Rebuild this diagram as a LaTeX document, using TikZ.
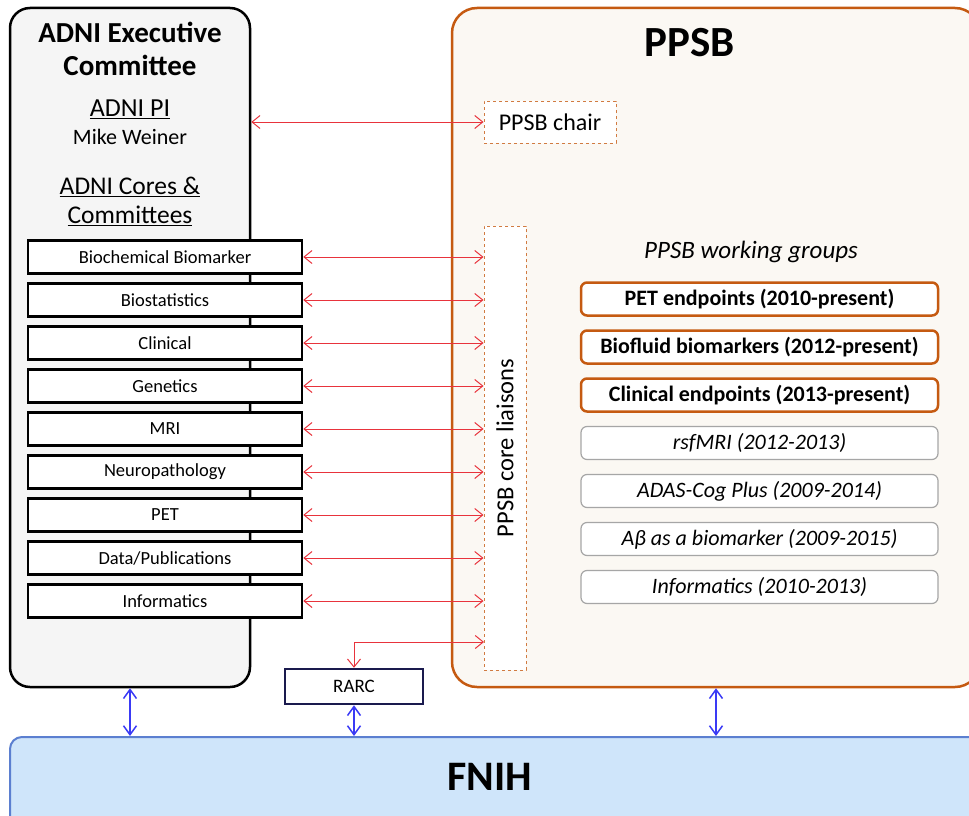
\documentclass[tikz,border=0pt]{standalone}
\usepackage{fontspec}
\setmainfont{Carlito}
\usetikzlibrary{arrows.meta,positioning}
\definecolor{ppsborange}{HTML}{C55A11}
\definecolor{ppsbfill}{HTML}{FBF8F3}
\definecolor{adnifill}{HTML}{F5F5F5}
\definecolor{fnihfill}{HTML}{CFE5FA}
\definecolor{fnihline}{HTML}{5B7FD0}
\definecolor{linkred}{HTML}{E8333C}
\definecolor{linkblue}{HTML}{3A3AF5}
\definecolor{rarcline}{HTML}{1A1A4E}
\definecolor{pastline}{HTML}{A6A6A6}

\begin{document}
\begin{tikzpicture}[x=1pt,y=-1pt,
  adnibox/.style={draw=black,line width=2.5pt,rounded corners=20pt,fill=adnifill,
    minimum width=240pt,minimum height=679pt,inner sep=0pt},
  ppsbbox/.style={draw=ppsborange,line width=2.5pt,rounded corners=25pt,fill=ppsbfill,
    minimum width=528pt,minimum height=679pt,inner sep=0pt},
  fnihbox/.style={draw=fnihline,line width=2pt,rounded corners=12pt,fill=fnihfill,
    minimum width=980pt,minimum height=106pt,inner sep=0pt},
  core/.style={draw=black,line width=2.5pt,fill=white,minimum width=274pt,
    minimum height=33pt,inner sep=0pt,font=\fontsize{18.5}{20}\selectfont},
  dashbox/.style={draw=ppsborange!80,dashed,line width=1pt,fill=white,inner sep=0pt},
  wgactive/.style={draw=ppsborange,line width=2.5pt,rounded corners=6pt,fill=white,
    minimum width=357pt,minimum height=33pt,inner sep=0pt,
    font=\bfseries\fontsize{22}{24}\selectfont},
  wgpast/.style={draw=pastline,line width=1.2pt,rounded corners=6pt,fill=white,
    minimum width=357pt,minimum height=33pt,inner sep=0pt,
    font=\itshape\fontsize{22}{24}\selectfont},
  redlink/.style={draw=linkred,line width=1pt,
    {Straight Barb[length=8pt,width=13pt]}-{Straight Barb[length=8pt,width=13pt]}},
  bluelink/.style={draw=linkblue,line width=1.5pt,
    {Straight Barb[length=9pt,width=13pt]}-{Straight Barb[length=9pt,width=13pt]}}]
\useasboundingbox (0,0) rectangle (969,816);
\clip (0,0) rectangle (969,816);

% outer boxes
\node[adnibox] (adni) at (130,347.5) {};
\node[ppsbbox] (ppsb) at (716,347.5) {};
\node[fnihbox] (fnih) at (500,790) {};

% ADNI side
\node[font=\bfseries\fontsize{29}{33}\selectfont,align=center] (adnititle) at (130,49)
  {ADNI Executive\\Committee};
\node[font=\fontsize{26}{30}\selectfont] (pi) at (130,109) {\underline{ADNI PI}};
\node[font=\fontsize{22}{26}\selectfont] (weiner) at (130,137) {Mike Weiner};
\node[font=\fontsize{25.5}{29}\selectfont,align=center] (cores) at (130,201)
  {\underline{ADNI Cores \&}\\\underline{Committees}};
\foreach \name/\txt [count=\i] in {biochem/Biochemical Biomarker,
    biostat/Biostatistics, clinical/Clinical, genetics/Genetics, mri/MRI,
    neuro/Neuropathology, pet/PET, data/{Data/Publications},
    informatics/Informatics}
  \node[core] (\name) at (165,214+43*\i) {\txt};

% PPSB side
\node[font=\bfseries\fontsize{43}{47}\selectfont] (ppsbtitle) at (690,43) {PPSB};
\node[dashbox,minimum width=132pt,minimum height=42pt,
  font=\fontsize{24}{28}\selectfont] (chair) at (550,122) {PPSB chair};
\node[dashbox,minimum width=42pt,minimum height=444pt] (liaison) at (505,448) {};
\node[rotate=90,font=\fontsize{24.5}{28}\selectfont] (liaisontext) at (liaison.center)
  {PPSB core liaisons};
\node[font=\itshape\fontsize{25}{28}\selectfont] (wgtitle) at (751,252)
  {PPSB working groups};
\foreach \name/\txt [count=\i] in {petwg/PET endpoints (2010-present),
    fluidwg/Biofluid biomarkers (2012-present),
    clinwg/Clinical endpoints (2013-present)}
  \node[wgactive] (\name) at (759.5,251+48*\i) {\txt};
\foreach \name/\txt [count=\i] in {rsfwg/rsfMRI (2012-2013),
    adaswg/ADAS-Cog Plus (2009-2014), abetawg/Aβ as a biomarker (2009-2015),
    infowg/Informatics (2010-2013)}
  \node[wgpast] (\name) at (759.5,395+48*\i) {\txt};

% RARC and FNIH
\node[draw=rarcline,line width=2.5pt,fill=white,minimum width=138pt,minimum height=35pt,
  inner sep=0pt,font=\fontsize{19}{21}\selectfont] (rarc) at (354,686.5) {RARC};
\node[font=\bfseries\fontsize{42}{46}\selectfont] (fnihtext) at (490,777) {FNIH};

% links
\draw[redlink] (chair.west -| adni.east) -- (chair.west);
\foreach \name in {biochem,biostat,clinical,genetics,mri,neuro,pet,data,informatics}
  \draw[redlink] (\name.east) -- (\name.east -| liaison.west);
\coordinate (rarclink) at (484,642);
\draw[redlink] (rarc.north) |- (rarclink);
\draw[bluelink] (adni.south) -- (adni.south |- fnih.north);
\draw[bluelink] (rarc.south) -- (rarc.south |- fnih.north);
\draw[bluelink] (ppsb.south) -- (ppsb.south |- fnih.north);
\end{tikzpicture}
\end{document}
